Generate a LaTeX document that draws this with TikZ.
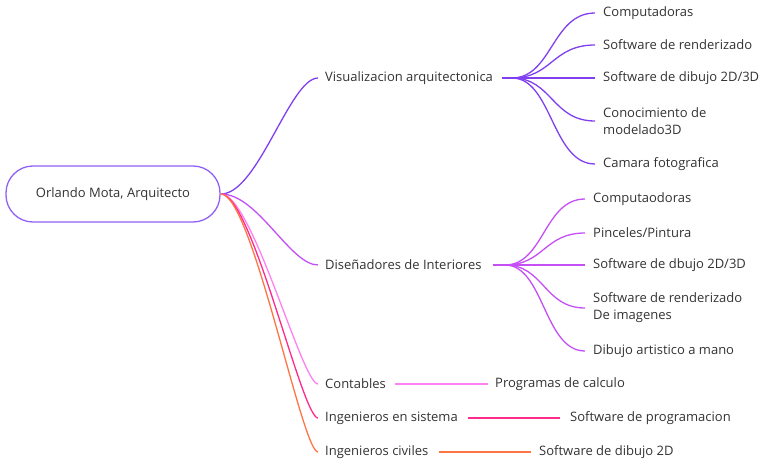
\documentclass[tikz,border=0pt]{standalone}
\usepackage{fontspec}
\setmainfont{Open Sans}
\begin{document}
\begin{tikzpicture}[x=1pt,y=-1pt,
  txt/.style={anchor=west,inner sep=0pt,font=\fontsize{13}{17}\selectfont,text=black!80},
  twol/.style={txt,align=left},
  conn/.style={line width=1.3pt},
]
\definecolor{cA}{HTML}{8040F0}
\definecolor{cB}{HTML}{C450F5}
\definecolor{cC}{HTML}{FF80F0}
\definecolor{cD}{HTML}{FF2A8A}
\definecolor{cE}{HTML}{FF7444}
\definecolor{cR}{HTML}{9060F5}
\useasboundingbox (0,0) rectangle (766,463);
% root
\node[draw=cR,line width=1.3pt,rounded corners=27pt,minimum width=214pt,minimum height=56pt,
  font=\fontsize{13}{15}\selectfont,text=black!80] (root) at (113,194) {Orlando Mota, Arquitecto};
\coordinate (r) at (221,194);
% level 1
\node[txt] (va) at (325,78) {Visualizacion arquitectonica};
\node[txt] (di) at (325,265) {Diseñadores de Interiores};
\node[txt] (co) at (325,384) {Contables};
\node[txt] (is) at (325,418) {Ingenieros en sistema};
\node[txt] (ic) at (325,452) {Ingenieros civiles};
\coordinate (vaL) at (318,78);
\coordinate (diL) at (318,265);
\coordinate (coL) at (318,384);
\coordinate (isL) at (318,418);
\coordinate (icL) at (318,452);
\draw[conn,cA] (r) .. controls (258,194) and (290,78) .. (vaL);
\draw[conn,cB] (r) .. controls (258,194) and (290,265) .. (diL);
\draw[conn,cC] (r) .. controls (252,194) and (302,384) .. (coL);
\draw[conn,cD] (r) .. controls (252,194) and (302,418) .. (isL);
\draw[conn,cE] (r) .. controls (252,194) and (302,452) .. (icL);
% visualizacion children
\coordinate (vh0) at (502,78);
\coordinate (vh) at (512,78);
\draw[cA,line width=2.6pt] (vh0) -- (vh);
\node[txt] (v1) at (603,13) {Computadoras};
\node[txt] (v2) at (603,45) {Software de renderizado};
\node[txt] (v3) at (603,78) {Software de dibujo 2D/3D};
\node[twol] (v4) at (603,121) {Conocimiento de\\modelado3D};
\node[txt] (v5) at (603,164) {Camara fotografica};
\foreach \n/\y in {v1/13,v2/45,v3/78,v4/121,v5/164}{
  \draw[conn,cA] (vh) .. controls (552,78) and (552,\y) .. (595,\y);
}
% disenadores children
\coordinate (dh0) at (493,265);
\coordinate (dh) at (505,265);
\draw[cB,line width=2.6pt] (dh0) -- (dh);
\node[txt] (d1) at (593,199) {Computaodoras};
\node[txt] (d2) at (593,233) {Pinceles/Pintura};
\node[txt] (d3) at (593,265) {Software de dbujo 2D/3D};
\node[twol] (d4) at (593,308) {Software de renderizado\\De imagenes};
\node[txt] (d5) at (593,351) {Dibujo artistico a mano};
\foreach \n/\y in {d1/199,d2/233,d3/265,d4/308,d5/351}{
  \draw[conn,cB] (dh) .. controls (544,265) and (544,\y) .. (585,\y);
}
% single children
\node[txt] (c1) at (495,384) {Programas de calculo};
\node[txt] (s1) at (570,418) {Software de programacion};
\node[txt] (e1) at (539,452) {Software de dibujo 2D};
\coordinate (cs) at (395,384);
\coordinate (ce) at (488,384);
\coordinate (ss) at (468,418);
\coordinate (se) at (560,418);
\coordinate (es) at (439,452);
\coordinate (ee) at (531,452);
\draw[conn,cC] (cs) -- (ce);
\draw[conn,cD] (ss) -- (se);
\draw[conn,cE] (es) -- (ee);
\end{tikzpicture}
\end{document}
